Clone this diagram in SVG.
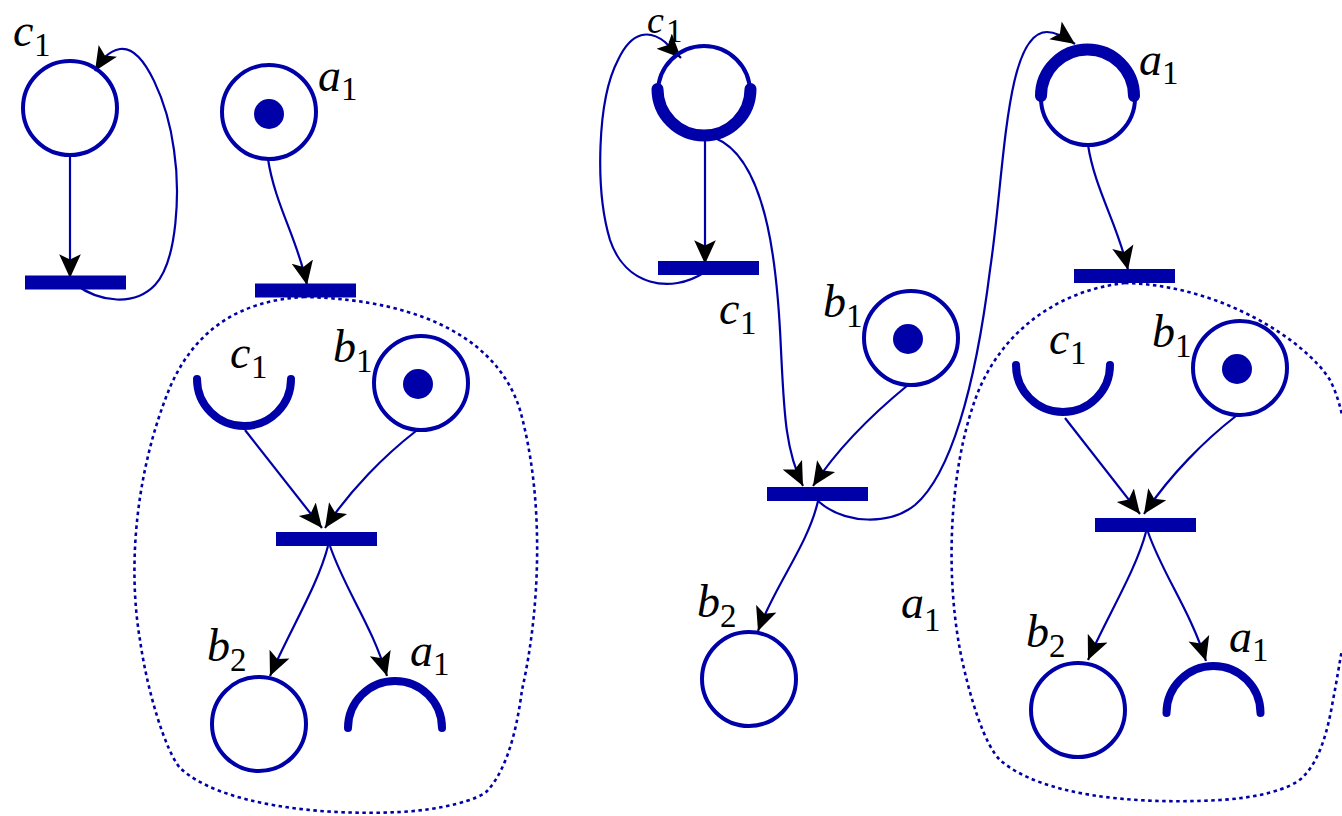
<svg xmlns="http://www.w3.org/2000/svg" width="1342" height="816" viewBox="0 0 1342 816">
<style>
.p{fill:none;stroke:#0000a8;stroke-width:4}
.h{fill:none;stroke:#0000a8;stroke-width:8;stroke-linecap:round}
.w{fill:none;stroke:#0000a8;stroke-width:12;stroke-linecap:round}
.b{fill:#0000a8}
.c{fill:none;stroke:#0000a8;stroke-width:2.2}
.d{fill:none;stroke:#0000a8;stroke-width:2.6;stroke-dasharray:3.5 3.5}
.t{font-family:"Liberation Serif","DejaVu Serif",serif;font-style:italic;font-size:46px;fill:#000}
.s{font-family:"Liberation Serif","DejaVu Serif",serif;font-size:33px;fill:#000}
</style>
<defs><marker id="a" markerUnits="userSpaceOnUse" markerWidth="26" markerHeight="24" refX="22" refY="10" orient="auto" viewBox="0 0 24 20"><path d="M0 0L22 10L0 20L5 10Z" fill="#000"/></marker></defs>
<rect width="1342" height="816" fill="#fff"/>
<g id="connectors">
<path class="c" d="M70 155V278" marker-end="url(#a)"/>
<path class="c" d="M75 284C100 303 135 306 155 285C178 260 180 190 174 150C168 105 145 45 120 49C108 51 102 60 95 71" marker-end="url(#a)"/>
<path class="c" d="M268 159C275 205 298 240 307 285" marker-end="url(#a)"/>
<path class="c" d="M245 430L322 528" marker-end="url(#a)"/>
<path class="c" d="M416 431C385 455 350 490 325 528" marker-end="url(#a)"/>
<path class="c" d="M328 546C318 585 290 630 270 676" marker-end="url(#a)"/>
<path class="c" d="M330 546C345 590 372 625 387 676" marker-end="url(#a)"/>
<path class="c" d="M705 140V264" marker-end="url(#a)"/>
<path class="c" d="M705 272C670 295 625 285 610 240C595 190 597 100 618 60C632 30 650 30 665 42L681 58" marker-end="url(#a)"/>
<path class="c" d="M715 138C770 160 778 280 781 350C784 410 785 450 803 486" marker-end="url(#a)"/>
<path class="c" d="M908 385C875 412 840 445 813 486" marker-end="url(#a)"/>
<path class="c" d="M818 501C808 545 775 585 758 631" marker-end="url(#a)"/>
<path class="c" d="M818 501C845 525 890 525 915 505C950 475 975 390 990 270C1005 170 1005 32 1047 32C1055 32 1065 37 1075 44" marker-end="url(#a)"/>
<path class="c" d="M1088 145C1095 190 1118 225 1128 270" marker-end="url(#a)"/>
<path class="c" d="M1065 418L1140 514" marker-end="url(#a)"/>
<path class="c" d="M1236 416C1205 440 1170 475 1144 514" marker-end="url(#a)"/>
<path class="c" d="M1146 532C1136 570 1108 615 1088 660" marker-end="url(#a)"/>
<path class="c" d="M1148 532C1163 575 1190 610 1206 661" marker-end="url(#a)"/>
<path class="d" d="M305 297C240 300 190 330 165 400C135 480 128 570 140 640C147 690 165 750 180 768C220 805 320 816 400 812C440 810 480 800 488 790C510 765 518 720 522 690C540 610 545 500 520 410C500 345 430 300 305 297Z"/>
<path class="d" d="M1125 283C1060 290 1000 330 975 400C950 470 945 570 960 650C970 700 985 745 1000 760C1040 795 1130 805 1220 800C1255 798 1290 790 1303 777C1320 760 1328 730 1333 700C1337 680 1339 665 1342 650"/>
<path class="d" d="M1125 283C1220 285 1305 340 1330 380C1336 392 1340 405 1342 415"/>
</g>
<g id="place-c1-left"><circle class="p" cx="70" cy="108" r="47"/><text class="t" x="13" y="46">c</text><text class="s" x="34" y="56">1</text></g>
<g id="place-a1-left"><circle class="p" cx="269" cy="112" r="47"/><circle class="b" cx="269" cy="114" r="15"/><text class="t" x="318" y="91">a</text><text class="s" x="341" y="100">1</text></g>
<g id="trans-1"><rect class="b" x="25" y="275.500" width="101" height="14"/></g>
<g id="trans-2"><rect class="b" x="255" y="283.500" width="101" height="14"/></g>
<g id="arc-c1-2"><path class="h" d="M197 379A47 47 0 0 0 291 379"/><text class="t" x="230" y="368">c</text><text class="s" x="251" y="378">1</text></g>
<g id="place-b1-2"><circle class="p" cx="421" cy="383" r="47"/><circle class="b" cx="418" cy="384" r="15"/><text class="t" x="333" y="362">b</text><text class="s" x="356" y="372">1</text></g>
<g id="trans-3"><rect class="b" x="276" y="532" width="101" height="14"/></g>
<g id="place-b2-2"><circle class="p" cx="259" cy="724" r="47"/><text class="t" x="207" y="661">b</text><text class="s" x="230" y="671">2</text></g>
<g id="arc-a1-2"><path class="h" d="M348 728A47 47 0 0 1 442 728"/><text class="t" x="410" y="666">a</text><text class="s" x="433" y="675">1</text></g>
<g id="place-c1-mid"><circle class="p" cx="704" cy="92" r="46"/><path class="w" d="M657.500 89A46.500 46.500 0 0 0 750.500 89"/><text class="t" x="647" y="33" style="font-size:38px">c</text><text class="s" x="666" y="42">1</text></g>
<g id="place-a1-right"><circle class="p" cx="1088" cy="98" r="47"/><path class="w" d="M1041 96A46.500 46.500 0 0 1 1134 96"/><text class="t" x="1139" y="75">a</text><text class="s" x="1162" y="84">1</text></g>
<g id="trans-4"><rect class="b" x="658" y="261" width="101" height="14"/><text class="t" x="719" y="324">c</text><text class="s" x="740" y="334">1</text></g>
<g id="place-b1-mid"><circle class="p" cx="911" cy="338" r="47"/><circle class="b" cx="908" cy="339" r="15"/><text class="t" x="823" y="317">b</text><text class="s" x="846" y="327">1</text></g>
<g id="trans-5"><rect class="b" x="767" y="487" width="101" height="14"/></g>
<g id="place-b2-mid"><circle class="p" cx="749" cy="679" r="47"/><text class="t" x="697" y="617">b</text><text class="s" x="720" y="627">2</text></g>
<g id="label-a1-mid"><text class="t" x="901" y="618">a</text><text class="s" x="924" y="631">1</text></g>
<g id="trans-6"><rect class="b" x="1074" y="269" width="101" height="14"/></g>
<g id="arc-c1-3"><path class="h" d="M1016 365A47 47 0 0 0 1110 365"/><text class="t" x="1049" y="354">c</text><text class="s" x="1070" y="364">1</text></g>
<g id="place-b1-3"><circle class="p" cx="1240" cy="368" r="47"/><circle class="b" cx="1237" cy="369" r="15"/><text class="t" x="1152" y="347">b</text><text class="s" x="1175" y="357">1</text></g>
<g id="trans-7"><rect class="b" x="1095" y="518" width="101" height="14"/></g>
<g id="place-b2-3"><circle class="p" cx="1078" cy="710" r="47"/><text class="t" x="1026" y="647">b</text><text class="s" x="1049" y="657">2</text></g>
<g id="arc-a1-3"><path class="h" d="M1166.500 713A47 47 0 0 1 1260.500 713"/><text class="t" x="1229" y="652">a</text><text class="s" x="1252" y="661">1</text></g>
</svg>
